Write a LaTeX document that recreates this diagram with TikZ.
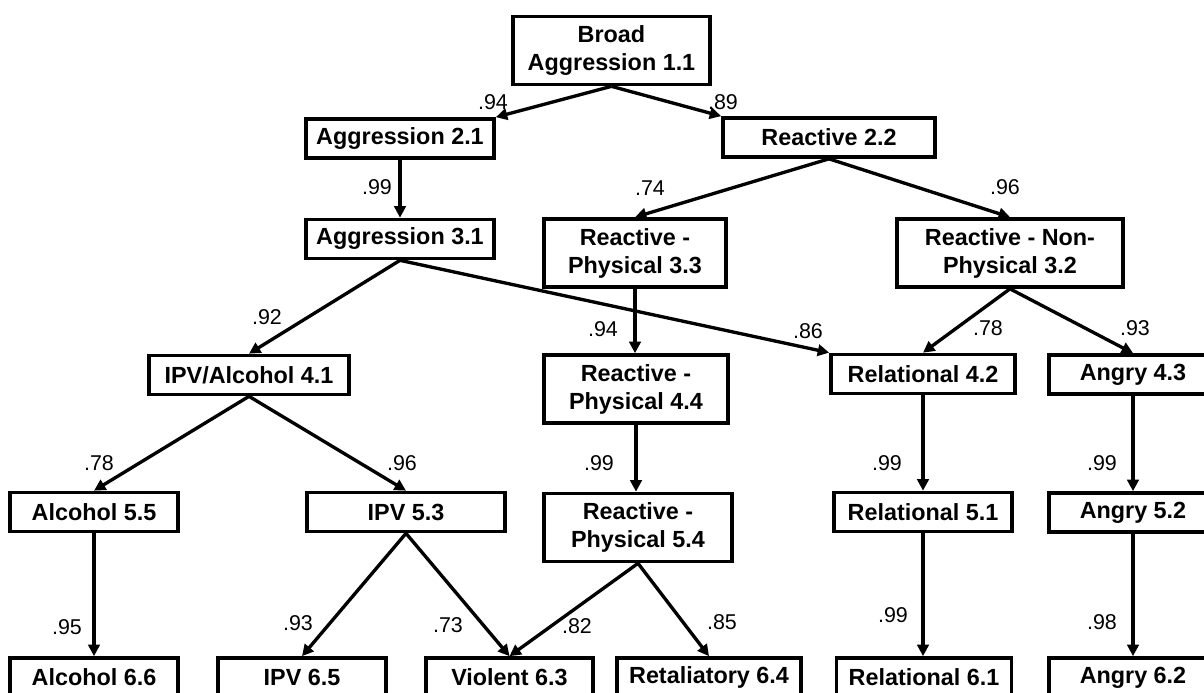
\documentclass[tikz,border=0pt]{standalone}
\usepackage{fontspec}
\setmainfont{Liberation Sans}
\usetikzlibrary{arrows.meta}

\newcommand\boxfont{\fontsize{13.3}{15.9}\selectfont\bfseries}
\newcommand\lblfont{\fontsize{12.2}{14}\selectfont}

\begin{document}
\begin{tikzpicture}[x=0.02cm, y=-0.02cm,
  box/.style={draw, line width=2.1pt, inner sep=0pt, align=center, minimum height=0.78cm, font=\boxfont},
  tall/.style={minimum height=1.36cm},
  wd/.style={minimum width=#1*0.02cm},
  lbl/.style={inner sep=0pt, font=\lblfont},
  arr/.style={-{Triangle[length=6.5pt,width=6.5pt]}, line width=1.9pt}]

\clip (0,0) rectangle (1204,693);

% level 1 - 3
\node[box, wd=197, tall] (b11) at (611.5,50.5) {Broad\\Aggression 1.1};
\node[box, wd=188] (a21) at (400,138.5) {Aggression 2.1};
\node[box, wd=212] (r22) at (829,137.5) {Reactive 2.2};
\node[box, wd=188] (a31) at (400,239) {Aggression 3.1};
\node[box, wd=182, tall] (rp33) at (635,253) {Reactive -\\Physical 3.3};
\node[box, wd=226, tall] (rn32) at (1010,253) {Reactive - Non-\\Physical 3.2};

% level 4 - 5
\node[box, wd=200] (ia41) at (249,375) {IPV/Alcohol 4.1};
\node[box, wd=184, tall] (rp44) at (636,389) {Reactive -\\Physical 4.4};
\node[box, wd=184] (rl42) at (923,374) {Relational 4.2};
\node[box, wd=168] (an43) at (1133,374.5) {Angry 4.3};

\node[box, wd=168] (al55) at (94,512) {Alcohol 5.5};
\node[box, wd=198] (ip53) at (406,512) {IPV 5.3};
\node[box, wd=188, tall] (rp54) at (638,527.5) {Reactive -\\Physical 5.4};
\node[box, wd=178] (rl51) at (923,512) {Relational 5.1};
\node[box, wd=168] (an52) at (1133,512.5) {Angry 5.2};

% level 6
\node[box, wd=168] (al66) at (94,677.5) {Alcohol 6.6};
\node[box, wd=168] (ip65) at (302,677.5) {IPV 6.5};
\node[box, wd=167] (vi63) at (509.5,677.5) {Violent 6.3};
\node[box, wd=184] (re64) at (709,677.5) {Retaliatory 6.4};
\node[box, wd=175] (rl61) at (924,677.5) {Relational 6.1};
\node[box, wd=168] (an62) at (1133,677.5) {Angry 6.2};

% arrows
\draw[arr] (b11.south) -- (a21.north east);
\draw[arr] (b11.south) -- (r22.north west);
\draw[arr] (a21.south) -- (a31.north);
\draw[arr] (r22.south) -- (rp33.north);
\draw[arr] (r22.south) -- (rn32.north);
\draw[arr] (a31.south) -- (ia41.north);
\draw[arr] (a31.south) -- (rl42.north west);
\draw[arr] (rp33.south) -- (rp33.south |- rp44.north);
\draw[arr] (rn32.south) -- (rl42.north);
\draw[arr] (rn32.south) -- (an43.north);
\draw[arr] (ia41.south) -- (al55.north);
\draw[arr] (ia41.south) -- (ip53.north);
\draw[arr] (rp44.south) -- (rp44.south |- rp54.north);
\draw[arr] (rl42.south) -- (rl51.north);
\draw[arr] (an43.south) -- (an52.north);
\draw[arr] (al55.south) -- (al66.north);
\draw[arr] (ip53.south) -- (ip65.north);
\draw[arr] (ip53.south) -- (vi63.north);
\draw[arr] (rp54.south) -- (vi63.north);
\draw[arr] (rp54.south) -- (re64.north);
\draw[arr] (rl51.south) -- (rl51.south |- rl61.north);
\draw[arr] (an52.south) -- (an62.north);

% loadings
\node[lbl] (l1) at (493,102) {.94};
\node[lbl] (l2) at (723,102) {.89};
\node[lbl] (l3) at (377,187) {.99};
\node[lbl] (l4) at (650,188) {.74};
\node[lbl] (l5) at (1005,187) {.96};
\node[lbl] (l6) at (267,317) {.92};
\node[lbl] (l7) at (603,329) {.94};
\node[lbl] (l8) at (808,331) {.86};
\node[lbl] (l9) at (988,328) {.78};
\node[lbl] (l10) at (1135,328) {.93};
\node[lbl] (l11) at (99,463) {.78};
\node[lbl] (l12) at (402,463) {.96};
\node[lbl] (l13) at (599,463) {.99};
\node[lbl] (l14) at (887,463) {.99};
\node[lbl] (l15) at (1102,463) {.99};
\node[lbl] (l16) at (67,627) {.95};
\node[lbl] (l17) at (298,623) {.93};
\node[lbl] (l18) at (448,625) {.73};
\node[lbl] (l19) at (577,626) {.82};
\node[lbl] (l20) at (722,622) {.85};
\node[lbl] (l21) at (893,615) {.99};
\node[lbl] (l22) at (1102,622) {.98};

\end{tikzpicture}
\end{document}
